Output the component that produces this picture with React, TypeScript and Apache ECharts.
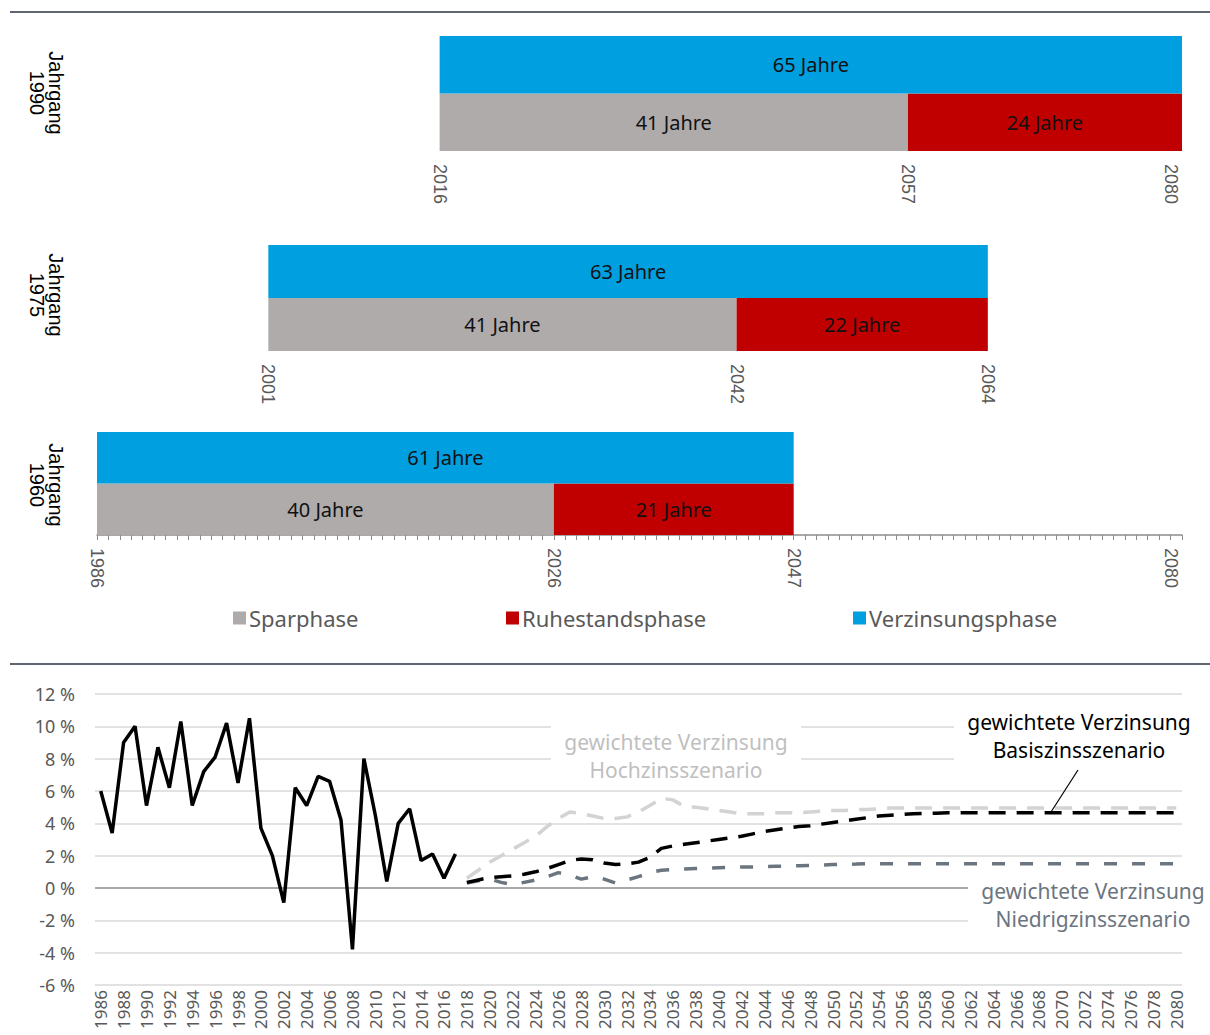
import React, { useEffect, useRef } from 'react';
import * as echarts from 'echarts';

// ---------- Top: cohort phases ----------
const cohortLabels = ['Jahrgang\n1990', 'Jahrgang\n1975', 'Jahrgang\n1960'];
const sparStart = [2016, 2001, 1986];
const sparYears = [41, 41, 40];
const ruheYears = [24, 22, 21];
const cohortTicks = [
  [2016, 2057, 2080],
  [2001, 2042, 2064],
  [1986, 2026, 2047, 2080],
];
const phaseNames = ['Sparphase', 'Ruhestandsphase', 'Verzinsungsphase'];
const phaseColors = ['#afabab', '#c00000', '#009fe0'];

// ---------- Bottom: interest rates ----------
const years: string[] = [];
for (let y = 1986; y <= 2080; y++) years.push(String(y));

// 1986 - 2017
const historical = [
  6.0, 3.4, 9.0, 10.0, 5.1, 8.7, 6.2, 10.3, 5.1, 7.2, 8.1, 10.2, 6.5, 10.5, 3.7, 2.0,
  -0.9, 6.2, 5.1, 6.9, 6.6, 4.2, -3.8, 8.0, 4.5, 0.4, 4.0, 4.9, 1.7, 2.1, 0.6, 2.1,
];
// 2018 - 2080
const hochzins = [
  0.6, 1.1, 1.6, 2.0, 2.4, 2.8, 3.2, 3.8, 4.3, 4.7, 4.6, 4.45, 4.3, 4.3, 4.4, 4.7, 5.1, 5.55,
  5.45, 5.05, 5.0, 4.9, 4.8, 4.7, 4.6, 4.6, 4.6, 4.65, 4.65, 4.65, 4.7, 4.75, 4.8, 4.8, 4.85,
  4.85, 4.9, 4.95, 4.95, 4.95, 4.95, 4.95, 4.95, 4.95, 4.95, 4.95, 4.95, 4.95, 4.95, 4.95,
  4.95, 4.95, 4.95, 4.95, 4.95, 4.95, 4.95, 4.95, 4.95, 4.95, 4.95, 4.95, 4.95,
];
const basis = [
  0.35, 0.5, 0.65, 0.7, 0.75, 0.85, 1.0, 1.2, 1.45, 1.7, 1.8, 1.75, 1.55, 1.45, 1.5, 1.6, 1.9,
  2.45, 2.6, 2.7, 2.8, 2.9, 3.0, 3.1, 3.2, 3.35, 3.5, 3.6, 3.7, 3.8, 3.85, 3.95, 4.05, 4.15,
  4.25, 4.35, 4.45, 4.5, 4.55, 4.6, 4.62, 4.63, 4.65, 4.65, 4.65, 4.65, 4.65, 4.65, 4.65,
  4.65, 4.65, 4.65, 4.65, 4.65, 4.65, 4.65, 4.65, 4.65, 4.65, 4.65, 4.65, 4.65, 4.65,
];
const niedrig = [
  0.3, 0.45, 0.55, 0.35, 0.2, 0.35, 0.5, 0.7, 0.95, 0.8, 0.55, 0.7, 0.55, 0.3, 0.5, 0.7, 0.95,
  1.1, 1.15, 1.18, 1.2, 1.22, 1.25, 1.27, 1.3, 1.3, 1.32, 1.34, 1.36, 1.38, 1.4, 1.42, 1.45,
  1.47, 1.48, 1.5, 1.5, 1.5, 1.5, 1.5, 1.5, 1.5, 1.5, 1.5, 1.5, 1.5, 1.5, 1.5, 1.5, 1.5, 1.5,
  1.5, 1.5, 1.5, 1.5, 1.5, 1.5, 1.5, 1.5, 1.5, 1.5, 1.5, 1.5,
];
const yTicks = [-6, -4, -2, 0, 2, 4, 6, 8, 10, 12];

const FONT = '"Noto Sans", sans-serif';
const ARIAL = '"Liberation Sans", Arial, sans-serif';

function buildOption() {
  const histData = years.map((_, i) => (i < historical.length ? historical[i] : null));
  const pad = historical.length;
  const fc = (arr: number[]) => years.map((_, i) => (i >= pad ? arr[i - pad] : null));

  const cohortGrids = [
    { top: 36, height: 115 },
    { top: 245, height: 106 },
    { top: 432, height: 103 },
  ];

  const grids: any[] = cohortGrids.map((g) => ({ left: 97, right: 28, top: g.top, height: g.height }));
  grids.push({ left: 95, right: 28, top: 694, height: 291 });

  const xAxes: any[] = cohortGrids.map((_, i) => ({
    type: 'value',
    gridIndex: i,
    min: 1986,
    max: 2081,
    interval: 1,
    splitLine: { show: false },
    axisLine: { show: i === 2, onZero: false, lineStyle: { color: '#8c8c8c', width: 1.5 } },
    axisTick: { show: i === 2, length: 5, lineStyle: { color: '#8c8c8c', width: 1 } },
    axisLabel: {
      show: true,
      rotate: -90,
      margin: 13,
      color: '#595959',
      fontSize: 18,
      fontFamily: ARIAL,
      padding: [7, 0, 0, 0],
      showMinLabel: true,
      showMaxLabel: true,
      formatter: (v: number) => (cohortTicks[i].includes(v) ? String(v) : ''),
    },
  }));
  xAxes.push({
    type: 'category',
    gridIndex: 3,
    data: years,
    boundaryGap: true,
    axisLine: { show: false },
    axisTick: { show: false },
    axisLabel: {
      interval: 1,
      rotate: 90,
      margin: 5,
      color: '#595959',
      fontSize: 17,
      fontFamily: FONT,
    },
  });

  const yAxes: any[] = cohortGrids.map((_, i) => ({
    type: 'value',
    gridIndex: i,
    min: 0,
    max: 2,
    show: false,
  }));
  yAxes.push({
    type: 'value',
    gridIndex: 3,
    min: -6,
    max: 12,
    interval: 2,
    axisLine: { show: false },
    axisTick: { show: false },
    axisLabel: {
      margin: 20,
      color: '#595959',
      fontSize: 18,
      fontFamily: FONT,
      formatter: (v: number) => `${v} %`,
    },
    splitLine: {
      lineStyle: {
        width: 1.5,
        color: yTicks.map((t) => (t === 0 ? '#8c8c8c' : '#d9d9d9')),
      },
    },
  });

  const series: any[] = [];
  cohortLabels.forEach((_, i) => {
    const s = sparStart[i];
    const r = s + sparYears[i];
    const e = r + ruheYears[i];
    const phases = [
      { p: 0, data: [[s, r, 0, 1]], text: `${sparYears[i]} Jahre` },
      { p: 1, data: [[r, e, 0, 1]], text: `${ruheYears[i]} Jahre` },
      { p: 2, data: [[s, e, 1, 2]], text: `${sparYears[i] + ruheYears[i]} Jahre` },
    ];
    phases.forEach((ph) => {
      const color = phaseColors[ph.p];
      series.push({
        type: 'custom',
        name: phaseNames[ph.p],
        coordinateSystem: 'cartesian2d',
        xAxisIndex: i,
        yAxisIndex: i,
        itemStyle: { color },
        encode: { x: [0, 1], y: [2, 3] },
        data: ph.data,
        renderItem: (params: any, api: any) => {
          const p0 = api.coord([api.value(0), api.value(3)]);
          const p1 = api.coord([api.value(1), api.value(2)]);
          return {
            type: 'rect',
            shape: { x: p0[0], y: p0[1], width: p1[0] - p0[0], height: p1[1] - p0[1] },
            style: { fill: color },
            textContent: {
              style: { text: ph.text, fill: '#111111', font: `20px ${FONT}` },
            },
            textConfig: { position: 'inside' },
          };
        },
      });
    });
  });

  series.push(
    {
      type: 'line',
      name: 'Hochzins',
      xAxisIndex: 3,
      yAxisIndex: 3,
      data: fc(hochzins),
      symbol: 'none',
      connectNulls: false,
      lineStyle: { color: '#d3d3d3', width: 3.5, type: [17, 11] },
      z: 2,
    },
    {
      type: 'line',
      name: 'Niedrigzins',
      xAxisIndex: 3,
      yAxisIndex: 3,
      data: fc(niedrig),
      symbol: 'none',
      lineStyle: { color: '#6b7580', width: 3.5, type: [13, 15] },
      z: 3,
    },
    {
      type: 'line',
      name: 'Basiszins',
      xAxisIndex: 3,
      yAxisIndex: 3,
      data: fc(basis),
      symbol: 'none',
      lineStyle: { color: '#000000', width: 3.5, type: [17, 11] },
      z: 4,
    },
    {
      type: 'line',
      name: 'Historisch',
      xAxisIndex: 3,
      yAxisIndex: 3,
      data: histData,
      symbol: 'none',
      lineStyle: { color: '#000000', width: 3.5 },
      z: 5,
    }
  );

  const legendBase = {
    top: 607,
    padding: 0,
    icon: 'rect',
    itemWidth: 13,
    itemHeight: 13,
    selectedMode: false,
    textStyle: { color: '#595959', fontSize: 22, fontFamily: FONT, padding: [0, 0, 0, -2] },
  };
  const legendLefts = [233, 506, 853];

  const cohortCenters = [93, 295, 485];

  const graphic: any[] = [
    { type: 'line', shape: { x1: 10, y1: 12, x2: 1210, y2: 12 }, style: { stroke: '#5f6670', lineWidth: 2 }, z: 100 },
    { type: 'line', shape: { x1: 10, y1: 664, x2: 1210, y2: 664 }, style: { stroke: '#5f6670', lineWidth: 2 }, z: 100 },
    ...cohortLabels.map((t, i) => ({
      type: 'text',
      x: 46,
      y: cohortCenters[i],
      rotation: -Math.PI / 2,
      z: 100,
      style: {
        text: t,
        fill: '#000000',
        font: `20px ${ARIAL}`,
        align: 'center',
        verticalAlign: 'middle',
        lineHeight: 19,
      },
    })),
    // annotation boxes
    { type: 'rect', shape: { x: 551, y: 706, width: 250, height: 78 }, style: { fill: '#ffffff' }, z: 100 },
    { type: 'rect', shape: { x: 954, y: 706, width: 256, height: 78 }, style: { fill: '#ffffff' }, z: 100 },
    { type: 'rect', shape: { x: 968, y: 869, width: 242, height: 68 }, style: { fill: '#ffffff' }, z: 100 },
    {
      type: 'text', x: 676, y: 756, z: 101,
      style: { text: 'gewichtete Verzinsung\nHochzinsszenario', fill: '#bfbfbf', font: `21px ${FONT}`, align: 'center', verticalAlign: 'middle', lineHeight: 28 },
    },
    {
      type: 'text', x: 1079, y: 736, z: 101,
      style: { text: 'gewichtete Verzinsung\nBasiszinsszenario', fill: '#000000', font: `21px ${FONT}`, align: 'center', verticalAlign: 'middle', lineHeight: 28 },
    },
    {
      type: 'text', x: 1093, y: 905, z: 101,
      style: { text: 'gewichtete Verzinsung\nNiedrigzinsszenario', fill: '#6b7580', font: `21px ${FONT}`, align: 'center', verticalAlign: 'middle', lineHeight: 28 },
    },
    { type: 'line', shape: { x1: 1051, y1: 812, x2: 1078, y2: 770 }, style: { stroke: '#000000', lineWidth: 1.2 }, z: 101 },
  ];

  return {
    animation: false,
    backgroundColor: '#ffffff',
    grid: grids,
    xAxis: xAxes,
    yAxis: yAxes,
    legend: phaseNames.map((n, i) => ({ ...legendBase, left: legendLefts[i], data: [n] })),
    series,
    graphic,
  };
}

export default function App() {
  const ref = useRef<HTMLDivElement>(null);
  useEffect(() => {
    if (!ref.current) return;
    const chart = echarts.init(ref.current, undefined, { renderer: 'svg' });
    chart.setOption(buildOption() as any);
    return () => chart.dispose();
  }, []);
  return (
    <div
      ref={ref}
      style={{ position: 'absolute', left: 0, top: 0, width: 1210, height: 1035, background: '#fff' }}
    />
  );
}
